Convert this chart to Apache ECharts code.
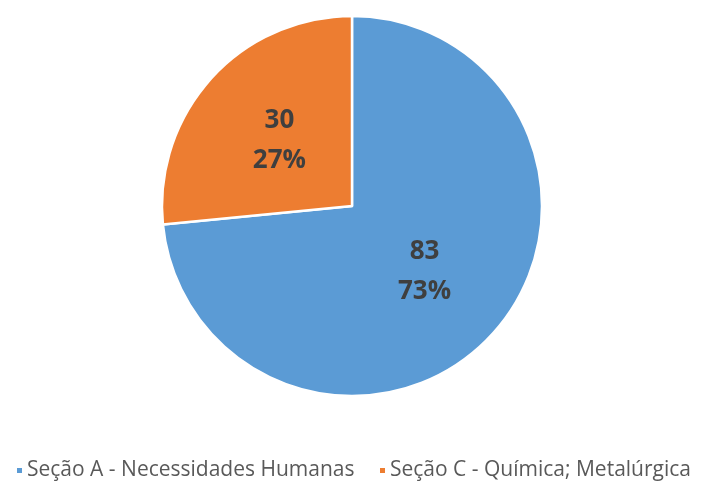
<!DOCTYPE html>
<html>
<head>
<meta charset="utf-8">
<script src="https://cdn.jsdelivr.net/npm/echarts@6/dist/echarts.min.js"></script>
<style>
html,body{margin:0;padding:0;background:#fff;}
#chart{width:706px;height:486px;}
</style>
</head>
<body>
<div id="chart"></div>
<script>
// Patent counts by IPC section
const categories = ['Seção A - Necessidades Humanas', 'Seção C - Química; Metalúrgica'];
const values = [83, 30];
const colors = ['#5B9BD5', '#ED7D31'];

const chart = echarts.init(document.getElementById('chart'));
const total = values.reduce((a, b) => a + b, 0);

// one legend per entry so each sits at its own column
const legendBase = {
  bottom: 0,
  icon: 'rect',
  itemWidth: 7,
  itemHeight: 7,
  itemGap: 6,
  textStyle: { color: '#595959', fontSize: 21, fontFamily: 'Open Sans', padding: [0, 0, 0, -1] }
};
const legendLefts = [10, 373];

chart.setOption({
  animation: false,
  backgroundColor: '#ffffff',
  color: colors,
  legend: categories.map((c, i) => Object.assign({}, legendBase, { left: legendLefts[i], data: [c] })),
  series: [{
    type: 'pie',
    center: [352, 206],
    radius: 190,
    startAngle: 90,
    clockwise: true,
    itemStyle: { borderColor: '#ffffff', borderWidth: 2.5 },
    label: {
      position: 'inside',
      color: '#3f3f3f',
      fontSize: 26,
      fontWeight: 'bold',
      fontFamily: 'Open Sans',
      lineHeight: 40,
      formatter: p => p.value + '\n' + Math.round(p.value / total * 100) + '%'
    },
    labelLine: { show: false },
    data: categories.map((c, i) => ({ name: c, value: values[i] }))
  }]
});
</script>
</body>
</html>
